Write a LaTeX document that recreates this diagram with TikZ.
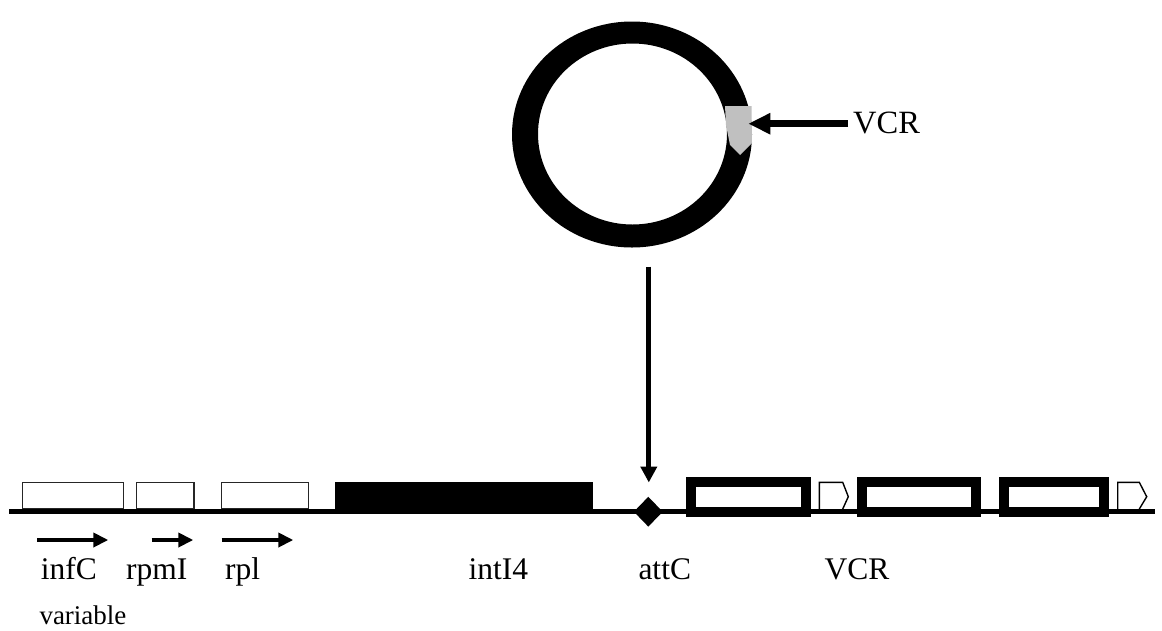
\documentclass[tikz,border=0pt]{standalone}
\usepackage{fontspec}
\setmainfont{Liberation Serif}
\usetikzlibrary{arrows.meta,shapes.geometric}
\definecolor{vcrgray}{HTML}{C0C0C0}
\begin{document}
\begin{tikzpicture}[x=1pt,y=-1pt,
  lbl/.style={anchor=base west,inner sep=0pt,font=\fontsize{31.5}{36}\selectfont},
  genebox/.style={draw=black!85,line width=1.4pt,fill=white},
  cassette/.style={draw=black,line width=10pt,fill=white},
  orf/.style={draw=black,line width=1.4pt,fill=white,line join=miter},
  dirarrow/.style={line width=4pt,-{Triangle[length=15pt,width=14pt]}},
]
\useasboundingbox (0,0) rectangle (1162,630);

% circular cassette with its VCR site
\fill[even odd rule] (632,134.5) ellipse [x radius=120pt, y radius=113pt]
                     (632.5,134) ellipse [x radius=94.5pt, y radius=90.5pt];
\fill[vcrgray] (725,106) -- (751.5,106) -- (752,143) -- (740,155)
               -- (730,145) -- (726,125) -- cycle;
\node[lbl,font=\fontsize{32.5}{38}\selectfont] (vcrtop) at (853,133) {VCR};
\coordinate (vcrsite) at (748.3,123.7);
\draw[line width=6.5pt,-{Triangle[length=22pt,width=20pt]}]
  ([xshift=-5pt]vcrtop.west |- vcrsite) -- (vcrsite);

% chromosomal genes
\draw[genebox] (22.7,482.3) rectangle (123.3,509);
\draw[genebox] (136.7,482.3) rectangle (194,509);
\draw[genebox] (221.7,482.3) rectangle (308.3,509);
\fill (335,481.7) rectangle (592.7,511);

% small ORFs
\draw[orf] (819.3,509) -- (819.3,482.3) -- (842.7,482.3) -- (848.3,496.7) -- (842.7,509);
\draw[orf] (1117.7,509) -- (1117.7,482.3) -- (1139.3,482.3) -- (1146.7,496.7) -- (1139.3,509);

% backbone
\draw[line width=5pt] (9,511) -- (1155,511);

% gene cassettes
\draw[cassette] (691.3,482.3) rectangle (805.7,511.7);
\draw[cassette] (861.7,482.3) rectangle (975.7,511.7);
\draw[cassette] (1004,482.3) rectangle (1104.3,511.7);

% attC site and insertion arrow
\node[diamond,fill=black,aspect=1,minimum width=29pt,minimum height=30pt,inner sep=0pt]
  (attc) at (648.3,511.7) {};
\coordinate (drop) at (648.8,266.7);
\draw[line width=5pt,-{Triangle[length=16pt,width=16pt]},shorten >=14pt]
  (drop) -- (drop |- attc.north);

% transcription directions
\draw[dirarrow] (37.3,540) -- (108.3,540);
\draw[dirarrow] (151.7,540) -- (193.3,540);
\draw[dirarrow] (221.7,540) -- (293.3,540);

% labels
\node[lbl] (infc) at (40.7,579) {infC};
\node[lbl] (rpmi) at (126,579) {rpmI};
\node[lbl] (rpl) at (225,579) {rpl};
\node[lbl] (inti) at (468.3,579) {intI4};
\node[lbl] (attclbl) at (638.3,579) {attC};
\node[lbl] (vcrbot) at (824.3,579) {VCR};
\node[lbl,font=\fontsize{27}{32}\selectfont] (var) at (39.3,624) {variable};
\end{tikzpicture}
\end{document}
